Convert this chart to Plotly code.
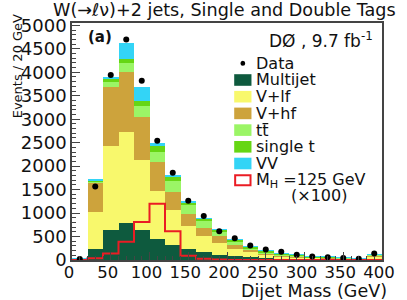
import plotly.graph_objects as go

# ---------------- data ----------------
bin_low = [0, 20, 40, 60, 80, 100, 120, 140, 160, 180, 200, 220, 240, 260, 280, 300, 320, 340, 360, 380]
bin_width = 20
multijet = [5, 225, 630, 780, 650, 450, 320, 230, 160, 115, 78, 60, 43, 28, 15, 10, 6, 4, 3, 8]
v_lf = [15, 797, 1792, 1950, 1471, 1027, 740, 495, 359, 257, 160, 100, 55, 42, 41, 33, 29, 24, 17, 56]
v_hf = [5, 623, 1260, 1281, 931, 609, 390, 265, 164, 133, 85, 55, 43, 22, 21, 12, 13, 10, 8, 24]
ttbar = [1, 20, 118, 189, 238, 224, 240, 186, 156, 95, 57, 40, 29, 20, 21, 8, 10, 7, 4, 20]
single_t = [1, 25, 60, 91, 105, 126, 90, 56, 49, 45, 47, 29, 22, 16, 15, 7, 6, 5, 3, 12]
vv = [1, 15, 45, 329, 287, 56, 15, 14, 7, 5, 3, 2, 1, 1, 1, 1, 1, 1, 1, 1]
data = [20, 1568, 3941, 4697, 3822, 2541, 1860, 1262, 940, 615, 465, 308, 223, 174, 113, 74, 60, 40, 28, 137]
signal_x100 = [0, 35, 140, 390, 810, 1200, 610, 92, 25, 12, 0, 0, 0, 0, 0, 0, 0, 0, 0, 0]

y_ticks = [0, 500, 1000, 1500, 2000, 2500, 3000, 3500, 4000, 4500, 5000]
x_ticks = [0, 50, 100, 150, 200, 250, 300, 350, 400]

components = [
    ("Multijet", multijet, "#0e5a3e"),
    ("V+lf", v_lf, "#f8f86c"),
    ("V+hf", v_hf, "#cda33c"),
    ("tt", ttbar, "#9bf566"),
    ("single t", single_t, "#66d614"),
    ("VV", vv, "#33d4f6"),
]

centers = [b + bin_width / 2 for b in bin_low]

FONT = "DejaVu Sans"
W, H = 407, 300
L, R, T, B = 72, 12, 23, 40
PW, PH = W - L - R, H - T - B


def px(x):
    return (x - L) / PW


def py(y):
    return (H - B - y) / PH


fig = go.Figure()
for name, vals, col in components:
    fig.add_trace(go.Bar(x=centers, y=vals, width=bin_width, name=name,
                         marker=dict(color=col, line=dict(width=0)),
                         showlegend=False))

# signal step histogram
sx = bin_low + [bin_low[-1] + bin_width]
sy = signal_x100 + [signal_x100[-1]]
fig.add_trace(go.Scatter(x=sx, y=sy, mode="lines", line=dict(color="#ea1c24", width=2, shape="hv"),
                         showlegend=False, hoverinfo="skip"))

fig.add_trace(go.Scatter(x=centers, y=data, mode="markers",
                         marker=dict(color="black", size=6), showlegend=False))

axis_common = dict(showgrid=False, zeroline=False, showline=True, linecolor="#444",
                   linewidth=1.5, mirror=True, ticks="inside", tickcolor="#444")

fig.update_xaxes(range=[0, 400], tickvals=x_ticks, ticktext=[str(v) for v in x_ticks],
                 ticklen=8, minor=dict(dtick=10, ticklen=4, ticks="inside", tickcolor="#444"),
                 ticklabeloverflow="allow", ticklabelshift=-3, ticklabelstandoff=-4,
                 tickfont=dict(family=FONT, size=16.5, color="#111"),
                 **axis_common)
fig.update_yaxes(range=[0, 5050], tickvals=y_ticks, ticktext=[str(v) for v in y_ticks],
                 ticklen=8, minor=dict(dtick=100, ticklen=4, ticks="inside", tickcolor="#444"),
                 tickfont=dict(family=FONT, size=18, color="#111"),
                 **axis_common)

ann = []
ann.append(dict(text="W(\u2192\u2113\u03bd)+2 jets, Single and Double Tags", x=px(50), y=py(10),
                xref="paper", yref="paper", xanchor="left", yanchor="middle", showarrow=False,
                font=dict(family=FONT, size=17.6, color="#111")))
ann.append(dict(text="Events / 20 GeV", x=px(15), y=py(66), textangle=-90,
                xref="paper", yref="paper", xanchor="center", yanchor="middle", showarrow=False,
                font=dict(family=FONT, size=13, color="#111")))
ann.append(dict(text="Dijet Mass (GeV)", x=px(402), y=py(290.5),
                xref="paper", yref="paper", xanchor="right", yanchor="middle", showarrow=False,
                font=dict(family=FONT, size=17.5, color="#111")))
ann.append(dict(text="<b>(a)</b>", x=px(87), y=py(37),
                xref="paper", yref="paper", xanchor="left", yanchor="middle", showarrow=False,
                font=dict(family=FONT, size=15, color="#111")))
ann.append(dict(text="D\u00d8 , 9.7 fb<sup>-1</sup>", x=px(388), y=py(40),
                xref="paper", yref="paper", xanchor="right", yanchor="middle", showarrow=False,
                font=dict(family=FONT, size=17, color="#111")))

shapes = []
# legend
leg_text_x = 262
leg_y0 = 63.3
leg_dy = 16.7
labels = ["Data"] + [c[0] for c in components] + ["M<sub>H</sub> =125 GeV"]
for i, lab in enumerate(labels):
    yc = leg_y0 + i * leg_dy
    ann.append(dict(text=lab, x=px(leg_text_x), y=py(yc), xref="paper", yref="paper",
                    xanchor="left", yanchor="middle", showarrow=False,
                    font=dict(family=FONT, size=16, color="#111")))
    if i == 0:
        shapes.append(dict(type="circle", xref="paper", yref="paper",
                           x0=px(247.5), x1=px(252.5), y0=py(yc + 2.5), y1=py(yc - 2.5),
                           fillcolor="black", line=dict(width=0)))
    elif i <= len(components):
        shapes.append(dict(type="rect", xref="paper", yref="paper",
                           x0=px(241), x1=px(259), y0=py(yc + 5.8), y1=py(yc - 5.8),
                           fillcolor=components[i - 1][2], line=dict(width=0)))
    else:
        shapes.append(dict(type="rect", xref="paper", yref="paper",
                           x0=px(242), x1=px(258), y0=py(yc + 5), y1=py(yc - 5),
                           fillcolor="rgba(0,0,0,0)", line=dict(color="#ea1c24", width=2)))
# overbar of t-tbar label (4th legend entry)
tb_y = leg_y0 + 4 * leg_dy - 6.5
shapes.append(dict(type="line", xref="paper", yref="paper", x0=px(270.5), x1=px(276.5),
                   y0=py(tb_y), y1=py(tb_y), line=dict(color="#111", width=1.2)))
ann.append(dict(text="(\u00d7100)", x=px(329), y=py(leg_y0 + 8 * leg_dy - 1), xref="paper", yref="paper",
                xanchor="center", yanchor="middle", showarrow=False,
                font=dict(family=FONT, size=16, color="#111")))

fig.update_layout(width=W, height=H, margin=dict(l=L, r=R, t=T, b=B),
                  barmode="stack", bargap=0, plot_bgcolor="white", paper_bgcolor="white",
                  annotations=ann, shapes=shapes, showlegend=False)

fig.write_html("out.html", config={"displayModeBar": False},
               post_script="document.body.style.margin='0';document.body.style.overflow='hidden';")
